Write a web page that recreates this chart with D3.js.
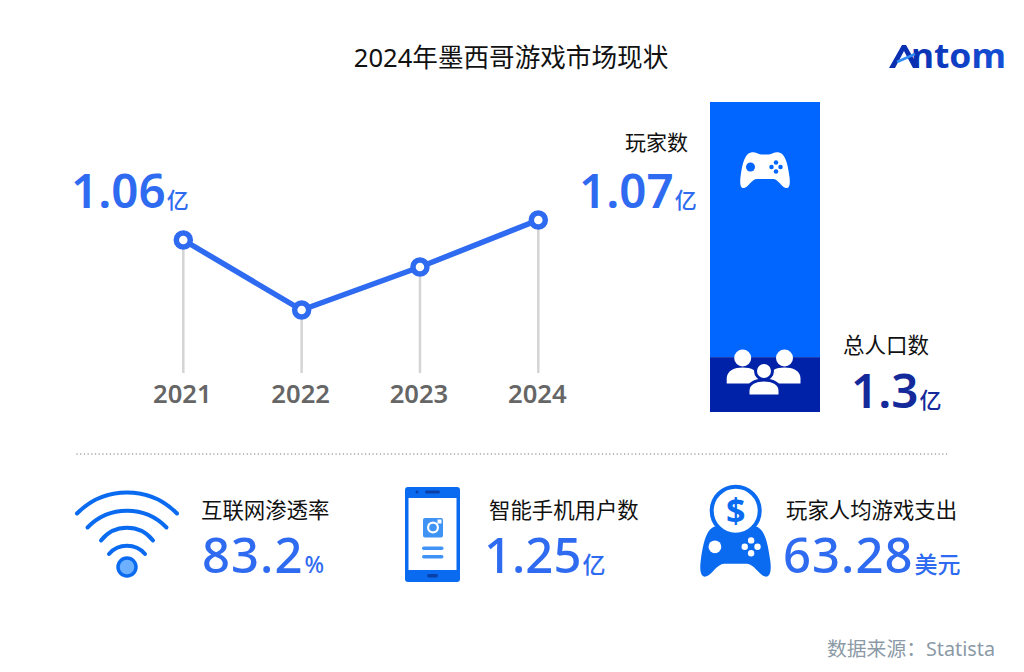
<!DOCTYPE html>
<html>
<head>
<meta charset="utf-8">
<script src="https://cdn.jsdelivr.net/npm/d3@7"></script>
<style>
  html, body { margin: 0; padding: 0; background: #fff; overflow: hidden; }
  text { font-family: "Noto Sans", "Noto Sans CJK SC", sans-serif; }
</style>
</head>
<body>
<div id="chart"></div>
<script>
// values (2022 and 2023 are estimates, only 2021 and 2024 are labelled)
const years = ["2021", "2022", "2023", "2024"];
const gamers = [1.06, 1.025, 1.0465, 1.07];

const populationParts = ["玩家数", "其他人口"];
const populationValues = [1.07, 0.23];

const statLabels = ["互联网渗透率", "智能手机用户数", "玩家人均游戏支出"];
const statValues = ["83.2", "1.25", "63.28"];
const statUnits = ["%", "亿", "美元"];

const titleText = "2024年墨西哥游戏市场现状";
const sourceText = "数据来源：Statista";

const blue = "#2f6bf0", barBlue = "#0066ff", navy = "#0022a8", navyText = "#14299a";
const padPath = "M22 1C30-1 36 4 42 5L58 5C64 4 70-1 78 1C90 4 95 20 99 50C101 66 98 73 92 72C84 71 76 54 66 54L34 54C24 54 16 71 8 72C2 73-1 66 1 50C5 20 10 4 22 1Z";

const svg = d3.select("#chart").append("svg")
  .attr("width", 1024)
  .attr("height", 672);

// value with a smaller unit right behind it
function bigValue(x, y, value, unit, color, size, unitSize, weight, spacing) {
  const t = svg.append("text")
    .attr("x", x)
    .attr("y", y)
    .attr("fill", color)
    .attr("font-weight", weight);
  t.append("tspan").attr("font-size", size).attr("letter-spacing", spacing || 0).text(value);
  t.append("tspan").attr("font-size", unitSize).attr("font-weight", 500).attr("dx", 1).text(unit);
}

function label(x, y, str, size, color, anchor, weight) {
  return svg.append("text")
    .attr("x", x)
    .attr("y", y)
    .attr("text-anchor", anchor || "start")
    .attr("font-size", size)
    .attr("font-weight", weight || 400)
    .attr("fill", color)
    .text(str);
}

// gamepad drawn in a 100 x 72 box
function gamepad(x, y, w, body, detail) {
  const g = svg.append("g").attr("transform", "translate(" + x + "," + y + ") scale(" + w / 100 + ")");
  g.append("path").attr("d", padPath).attr("fill", body);
  g.append("circle").attr("cx", 21).attr("cy", 30).attr("r", 9).attr("fill", detail);
  [[72, 21], [63, 30], [81, 30], [72, 39]].forEach(p => {
    g.append("circle").attr("cx", p[0]).attr("cy", p[1]).attr("r", 4.5).attr("fill", detail);
  });
}

label(511, 67, titleText, 25.6, "#111", "middle");

// ---- line chart
const x = d3.scalePoint().domain(years).range([183.3, 538.3]);
const y = d3.scaleLinear().domain([1.0, 1.07]).range([360, 220]);
const stemBottom = 373;

svg.selectAll(".stem").data(years).enter().append("line")
  .attr("class", "stem")
  .attr("x1", d => x(d))
  .attr("x2", d => x(d))
  .attr("y1", (d, i) => y(gamers[i]))
  .attr("y2", stemBottom)
  .attr("stroke", "#d4d4d4")
  .attr("stroke-width", 2.5);

const line = d3.line().x((d, i) => x(years[i])).y(d => y(d));
svg.append("path")
  .attr("d", line(gamers))
  .attr("fill", "none")
  .attr("stroke", blue)
  .attr("stroke-width", 5.5);

svg.selectAll(".dot").data(gamers).enter().append("circle")
  .attr("class", "dot")
  .attr("cx", (d, i) => x(years[i]))
  .attr("cy", d => y(d))
  .attr("r", 7)
  .attr("fill", "#fff")
  .attr("stroke", blue)
  .attr("stroke-width", 5.5);

const xAxis = svg.append("g")
  .attr("transform", "translate(-1.5," + 386 + ")")
  .call(d3.axisBottom(x).tickSize(0).tickPadding(0));
xAxis.select(".domain").remove();
xAxis.selectAll("text")
  .attr("dy", "0.68em")
  .attr("font-family", '"Noto Sans"')
  .attr("font-size", 25.6)
  .attr("font-weight", 600)
  .attr("fill", "#666");

bigValue(71, 208, gamers[0].toFixed(2), "亿", blue, 47.5, 22, 600);

// ---- population bar
const barX = 710, barW = 110;
const pop = d3.scaleLinear().domain([0, d3.sum(populationValues)]).range([0, 310]);
const barColors = [barBlue, navy];
let stackTop = 102;
populationParts.forEach((p, i) => {
  svg.append("rect")
    .attr("x", barX)
    .attr("y", stackTop)
    .attr("width", barW)
    .attr("height", pop(populationValues[i]))
    .attr("fill", barColors[i]);
  stackTop += pop(populationValues[i]);
});

gamepad(740, 152, 50, "#fff", barBlue);

// three people
const people = svg.append("g").attr("fill", "#fff");
[[742.7, 358, 383.5], [784.5, 358, 383.5], [764, 371, 396]].forEach((p, i) => {
  const halo = i === 2 ? navy : "none";
  people.append("path")
    .attr("d", "M" + (p[0] - 16) + " " + p[2] + "v-5c0-8 8-11 16-11s16 3 16 11v5z")
    .attr("stroke", halo)
    .attr("stroke-width", 3);
  people.append("circle")
    .attr("cx", p[0])
    .attr("cy", p[1])
    .attr("r", 8.5)
    .attr("stroke", halo)
    .attr("stroke-width", 3);
});

label(688, 150, populationParts[0], 21, "#111", "end");
bigValue(579, 208, populationValues[0].toFixed(2), "亿", blue, 47.5, 22, 600);
label(843, 353, "总人口数", 21.5, "#111");
bigValue(851, 408, d3.sum(populationValues).toFixed(1), "亿", navyText, 47.5, 22, 600);

// ---- separator
svg.append("line")
  .attr("x1", 77).attr("x2", 950)
  .attr("y1", 454).attr("y2", 454)
  .attr("stroke", "#9a9a9a")
  .attr("stroke-width", 1.4)
  .attr("stroke-linecap", "round")
  .attr("stroke-dasharray", "0.1 3.6");

// ---- wifi
const wifiBlue = "#0b6bf0";
[[70, 50, 513.5], [55, 39.5, 527.5], [33, 26, 540.5], [24, 18, 554]].forEach(a => {
  svg.append("path")
    .attr("d", "M" + (127 - a[1]) + " " + a[2] + "A" + a[0] + " " + a[0] + " 0 0 1 " + (127 + a[1]) + " " + a[2])
    .attr("fill", "none")
    .attr("stroke", wifiBlue)
    .attr("stroke-width", 4)
    .attr("stroke-linecap", "round");
});
svg.append("circle")
  .attr("cx", 127).attr("cy", 567).attr("r", 9)
  .attr("fill", "#6cb0ff")
  .attr("stroke", wifiBlue)
  .attr("stroke-width", 3.5);

// ---- phone
const phone = svg.append("g");
phone.append("rect").attr("x", 405).attr("y", 487).attr("width", 55).attr("height", 95).attr("rx", 3).attr("fill", wifiBlue);
phone.append("rect").attr("x", 408.5).attr("y", 498).attr("width", 48).attr("height", 72).attr("fill", "#fff");
phone.append("circle").attr("cx", 417).attr("cy", 492).attr("r", 1.5).attr("fill", "#0840a8");
phone.append("rect").attr("x", 425).attr("y", 490.5).attr("width", 15).attr("height", 3).attr("rx", 1.5).attr("fill", "#0840a8");
phone.append("rect").attr("x", 427).attr("y", 574).attr("width", 11).attr("height", 3.5).attr("rx", 1.7).attr("fill", "#0840a8");
phone.append("rect").attr("x", 423).attr("y", 518).attr("width", 20).attr("height", 19.5).attr("rx", 2).attr("fill", "#3f93f5");
phone.append("circle").attr("cx", 433).attr("cy", 527.5).attr("r", 6).attr("fill", "#fff");
phone.append("circle").attr("cx", 433).attr("cy", 527.5).attr("r", 3.8).attr("fill", "#3f93f5");
phone.append("rect").attr("x", 437.5).attr("y", 519.5).attr("width", 4).attr("height", 4).attr("fill", "#fff");
phone.append("rect").attr("x", 422).attr("y", 546.5).attr("width", 21.5).attr("height", 3.4).attr("rx", 1.7).attr("fill", "#3f93f5");
phone.append("rect").attr("x", 422).attr("y", 555).attr("width", 21.5).attr("height", 3.4).attr("rx", 1.7).attr("fill", "#3f93f5");

// ---- pad with coin
gamepad(700, 525.5, 71, wifiBlue, "#fff");
svg.append("circle")
  .attr("cx", 735.7).attr("cy", 510.7).attr("r", 24)
  .attr("fill", "#fff")
  .attr("stroke", wifiBlue)
  .attr("stroke-width", 4);
label(735.7, 523, "$", 34, wifiBlue, "middle", 700);

// ---- bottom stats
const statX = [202, 484, 783];
const statSpacing = [1, 0, 1];
const labelX = [201, 489, 786];
statLabels.forEach((s, i) => {
  label(labelX[i], 518, s, 21.4, "#111");
  bigValue(statX[i], 573, statValues[i], statUnits[i], blue, 49, 23, 500, statSpacing[i]);
});

label(995, 656, sourceText, 19.8, "#8b9aa6", "end");

// ---- logo
const defs = svg.append("defs");
const grad = defs.append("linearGradient").attr("id", "logoGrad");
grad.append("stop").attr("offset", "0").attr("stop-color", "#0a2fb0");
grad.append("stop").attr("offset", "1").attr("stop-color", "#1450d8");
svg.append("text")
  .attr("x", 911)
  .attr("y", 68)
  .attr("font-family", '"Inter"')
  .attr("font-size", 34)
  .attr("font-weight", 700)
  .attr("textLength", 95)
  .attr("lengthAdjust", "spacingAndGlyphs")
  .attr("fill", "url(#logoGrad)")
  .text("ntom");
svg.append("path")
  .attr("d", "M889 68L902 45H906L919 68H913L904 51L895 68Z")
  .attr("fill", "#0a2fb0");
svg.append("path")
  .attr("d", "M897 62L915 54")
  .attr("stroke", "#2f8cf5")
  .attr("stroke-width", 2.5);
</script>
</body>
</html>
